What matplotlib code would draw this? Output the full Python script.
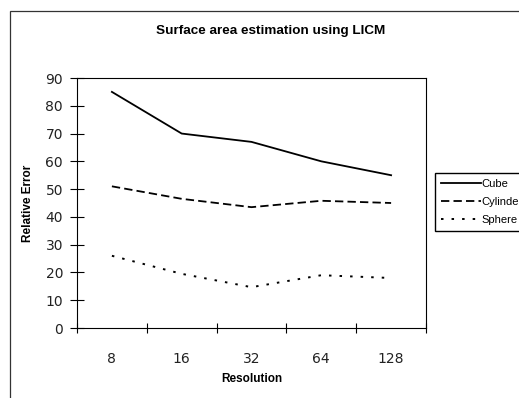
import matplotlib.pyplot as plt
from matplotlib.patches import Rectangle

resolutions = ['8', '16', '32', '64', '128']
cube = [85, 70, 67, 60, 55]
cylinder = [51, 46.5, 43.5, 45.8, 45]
sphere = [26, 19.5, 14.7, 19, 18]

plt.rcParams['lines.scale_dashes'] = False

fig = plt.figure(figsize=(5.19, 3.98), dpi=100)
fig.patch.set_facecolor('white')

# outer chart frame (Excel style), runs off the right/bottom edge
fig.add_artist(Rectangle((10 / 519, -0.2), 1.2, 1.2 - 11 / 398,
                         transform=fig.transFigure, fill=False,
                         edgecolor='#333333', linewidth=0.9))

ax = fig.add_axes([77 / 519, 70 / 398, 349 / 519, 250 / 398])

x = range(len(resolutions))
ax.plot(x, cube, color='black', linewidth=1.3, label='Cube')
ax.plot(x, cylinder, color='black', linewidth=1.3, linestyle=(0, (6, 3)),
        label='Cylinder')
ax.plot(x, sphere, color='black', linewidth=1.4, linestyle=(0, (1.8, 5.8)),
        label='Sphere')

ax.set_xlim(-0.5, 4.5)
ax.set_ylim(0, 90)
ax.set_yticks(range(0, 91, 10))
ax.set_xticks([i - 0.5 for i in range(6)])
ax.set_xticklabels([])
ax.set_xticks(list(x), minor=True)
ax.set_xticklabels(resolutions, minor=True)

ax.tick_params(axis='x', which='major', direction='inout', length=7, width=0.8)
ax.tick_params(axis='x', which='minor', length=0, pad=17, labelsize=10,
               labelcolor='#222222')
ax.tick_params(axis='y', direction='inout', length=10, width=0.8, pad=5,
               labelsize=10, labelcolor='#222222')
for s in ax.spines.values():
    s.set_linewidth(0.8)

ax.set_xlabel('Resolution', fontsize=8.5, fontweight='bold',
              family='Liberation Sans', labelpad=5)
ax.set_ylabel('Relative Error', fontsize=8.5, fontweight='bold',
              family='Liberation Sans', labelpad=8)

fig.text(271 / 519, 1 - 31 / 398, 'Surface area estimation using LICM',
         ha='center', va='center', fontsize=9.7, fontweight='bold',
         family='Liberation Sans')

fig.legend(loc='upper left', bbox_to_anchor=(435 / 519, 1 - 173 / 398),
           frameon=True, fancybox=False, edgecolor='black', framealpha=1,
           prop={'family': 'Liberation Sans', 'size': 8},
           handlelength=3.6, handletextpad=0.05, labelspacing=0.75,
           borderpad=0.5, borderaxespad=0)

fig.savefig('out.png', dpi=100)
